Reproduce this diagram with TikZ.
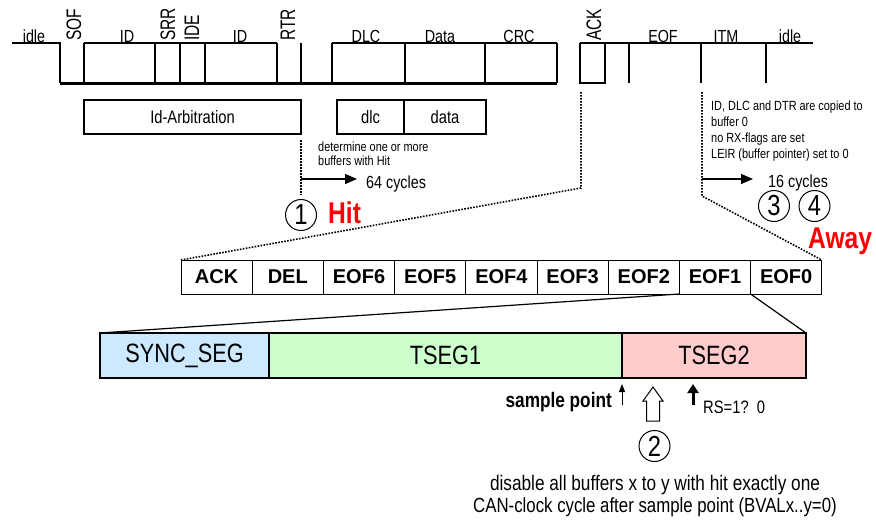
\documentclass[tikz,border=0pt]{standalone}
\usepackage{fontspec}
\setmainfont{Liberation Sans}[FakeStretch=0.82]
\newfontfamily\widefont{Liberation Sans}
\usetikzlibrary{arrows.meta,calc}
\definecolor{syncc}{HTML}{CCE9FF}
\definecolor{tsa}{HTML}{CCFFCC}
\definecolor{tsb}{HTML}{FFCCCC}
\definecolor{hitred}{HTML}{FF0000}
\begin{document}
\begin{tikzpicture}[x=1pt,y=-1pt,
 wlbl/.style={inner sep=0, anchor=base, font=\fontsize{17.5}{20}\selectfont},
 rlbl/.style={inner sep=0, rotate=90, anchor=west, font=\fontsize{21}{24}\selectfont},
 fbox/.style={draw, line width=1.6pt, inner sep=0, outer sep=0, minimum height=34pt, anchor=west, font=\fontsize{18}{20}\selectfont},
 eofbox/.style={draw, line width=0.9pt, inner sep=0, outer sep=0, minimum width=71.2pt, minimum height=34pt, anchor=west, font=\widefont\bfseries\fontsize{20}{22}\selectfont},
 seg/.style={draw, line width=2pt, inner sep=0, outer sep=0, minimum height=45pt, anchor=west, font=\fontsize{26.5}{28}\selectfont},
 smalltxt/.style={inner sep=0, align=left, anchor=north west},
 cnum/.style={draw, circle, line width=1pt, minimum size=31pt, inner sep=0, font=\fontsize{29}{29}\selectfont},
 hitlbl/.style={inner sep=0, anchor=base west, text=hitred, font=\bfseries\fontsize{30}{30}\selectfont},
 dots/.style={line width=1.6pt, dash pattern=on 1.6pt off 1.4pt},
 arr/.style={line width=1.3pt, -{Triangle[length=12pt,width=10pt]}},
 wave/.style={line width=2pt},
 tick/.style={line width=2.6pt},
]
\useasboundingbox (0,0) rectangle (876,523);

% ---- waveform ----
\draw[wave] (12,43) -- (60,43) -- (60,83);
\draw[line width=3pt] (60,83) -- (557,83);
\draw[wave] (84,43) -- (277,43);
\draw[wave] (332,43) -- (557,43);
\draw[wave] (580,43) -- (813,43);
\foreach \x in {84,155,180,205,277,301,332,405,485,557,629,701,766}
  \draw[tick] (\x,43) -- (\x,83);
\draw[tick] (580,43) -- (580,83) -- (605,83) -- (605,43);

\node[wlbl] (l-idle1) at (34,42) {idle};
\node[wlbl] (l-id1) at (127,42) {ID};
\node[wlbl] (l-id2) at (240,42) {ID};
\node[wlbl] (l-dlc) at (366,42) {DLC};
\node[wlbl] (l-data) at (440,42) {Data};
\node[wlbl] (l-crc) at (519,42) {CRC};
\node[wlbl] (l-eof) at (663,42) {EOF};
\node[wlbl] (l-itm) at (726,42) {ITM};
\node[wlbl] (l-idle2) at (790,42) {idle};
\node[rlbl] (l-sof) at (74,41) {\scalebox{0.9}[1]{SOF}};
\node[rlbl] (l-srr) at (168,41) {\scalebox{0.9}[1]{SRR}};
\node[rlbl] (l-ide) at (192,41) {\scalebox{0.9}[1]{IDE}};
\node[rlbl] (l-rtr) at (288,41) {\scalebox{0.9}[1]{RTR}};
\node[rlbl] (l-ack) at (594,41) {\scalebox{0.9}[1]{ACK}};

\coordinate (ackw) at (581,92);
\coordinate (ackb) at (581,188);
\coordinate (itmw) at (702,92);
\coordinate (itmb) at (702,196);

% ---- second row ----
\node[fbox, minimum width=217pt] (idarb) at (84,117) {Id-Arbitration};
\node[fbox, minimum width=67pt] (dlc) at (337,117) {dlc};
\node[fbox, minimum width=82pt] (data) at (dlc.east) {data};

\coordinate (hitv) at (301,195);
\coordinate (h1) at (301,179);
\draw[dots] ([yshift=-6pt]idarb.south east) -- (hitv);
\node[smalltxt, font=\fontsize{13.3}{14.5}\selectfont] (det) at (318,141.5) {determine one or more\\buffers with Hit};
\node[inner sep=0, anchor=base west, font=\fontsize{17.5}{20}\selectfont] (c64) at (366,188) {64 cycles};
\draw[arr] (h1) -- (357,179);
\node[cnum] (n1) at (301,215) {1};
\node[hitlbl] (hit) at (328,223) {Hit};

\node[smalltxt, font=\fontsize{13.3}{16}\selectfont] (info) at (711,101) {ID, DLC and DTR are copied to\\buffer 0\\no RX-flags are set\\LEIR (buffer pointer) set to 0};
\coordinate (h2) at (702,179);
\node[inner sep=0, anchor=base west, font=\fontsize{17.5}{20}\selectfont] (c16) at (768,187) {16 cycles};
\draw[arr] (h2) -- (753,179);
\node[cnum] (n3) at (774,206) {3};
\node[cnum] (n4) at (814.5,206) {4};
\node[hitlbl] (away) at (808,248) {Away};

% ---- ACK row ----
\node[eofbox] (a1) at (181,277) {ACK};
\node[eofbox] (a2) at (a1.east) {DEL};
\node[eofbox] (a3) at (a2.east) {EOF6};
\node[eofbox] (a4) at (a3.east) {EOF5};
\node[eofbox] (a5) at (a4.east) {EOF4};
\node[eofbox] (a6) at (a5.east) {EOF3};
\node[eofbox] (a7) at (a6.east) {EOF2};
\node[eofbox] (a8) at (a7.east) {EOF1};
\node[eofbox] (a9) at (a8.east) {EOF0};

\draw[dots] (ackw) -- (ackb) -- (a1.north west);
\draw[dots] (itmw) -- (itmb) -- (a9.north east);

% ---- bit timing row ----
\node[seg, fill=syncc, minimum width=169pt] (sync) at (100,355.5) {SYNC\_SEG};
\node[seg, fill=tsa, minimum width=353pt] (ts1) at (sync.east) {TSEG1};
\node[seg, fill=tsb, minimum width=184pt] (ts2) at (ts1.east) {TSEG2};
\draw[line width=1.2pt] (a8.south west) -- (sync.north west);
\draw[line width=1.2pt] (a8.south east) -- (ts2.north east);

\node[inner sep=0, anchor=base east, font=\bfseries\fontsize{21}{22}\selectfont] (sp) at (612,407) {sample point};
\coordinate (spt) at (622,384);
\draw[line width=1pt, -{Triangle[length=8pt,width=6pt]}] (622,405) -- (spt);
\coordinate (rst) at (693,384);
\draw[line width=3pt, -{Triangle[length=9pt,width=11pt]}] (693,405) -- (rst);
\node[inner sep=0, anchor=base west, font=\fontsize{18}{20}\selectfont] (rs) at (703,413) {RS=1?\hspace{0.45em}0};
\draw[line width=1pt, fill=white] (653,387) -- (663,401) -- (659.5,401) -- (659.5,421) -- (646.5,421) -- (646.5,401) -- (643,401) -- cycle;
\node[cnum] (n2) at (654.5,446) {2};
\node[inner sep=0, anchor=base, font=\fontsize{21}{22}\selectfont] (d1) at (655,490) {disable all buffers x to y with hit exactly one};
\node[inner sep=0, anchor=base, font=\fontsize{20.5}{22}\selectfont] (d2) at (655,512) {CAN-clock cycle after sample point (BVALx..y=0)};
\end{tikzpicture}
\end{document}
